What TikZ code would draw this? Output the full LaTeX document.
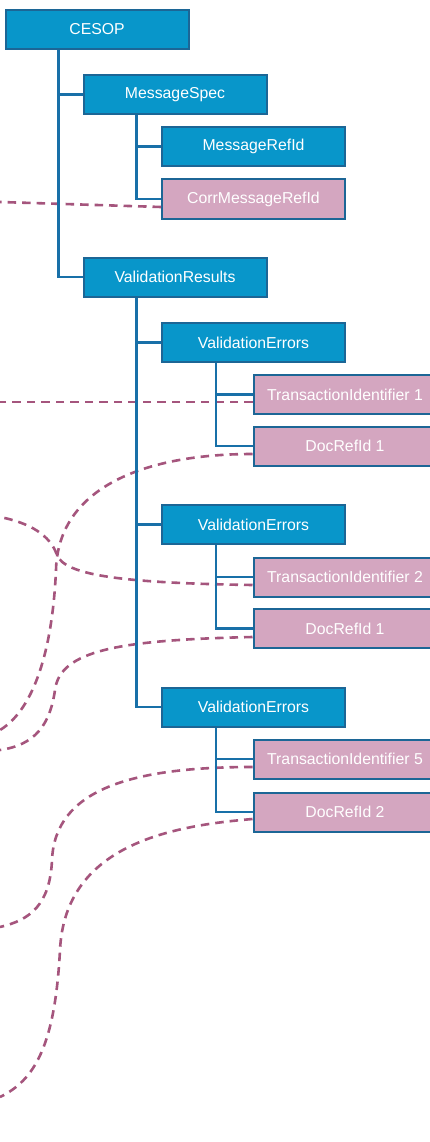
\documentclass[tikz,border=0pt]{standalone}
\usepackage{fontspec}
\setmainfont{Liberation Sans}
\definecolor{boxblue}{RGB}{8,150,202}
\definecolor{edgeblue}{RGB}{28,102,150}
\definecolor{treeblue}{RGB}{24,112,168}
\definecolor{pinkfill}{RGB}{212,166,192}
\definecolor{dashpink}{RGB}{165,85,125}
\tikzset{
  elem/.style={draw=edgeblue, line width=2pt, fill=boxblue, text=white,
    minimum width=183pt, minimum height=39pt, inner sep=0pt,
    font=\fontsize{15.8}{19}\selectfont},
  refel/.style={elem, fill=pinkfill},
  tree/.style={draw=treeblue, line width=2.6pt},
  link/.style={draw=dashpink, line width=2.6pt, dash pattern=on 8.5pt off 6pt}
}
\begin{document}
\begin{tikzpicture}[x=1pt,y=-1pt]
\useasboundingbox[fill=white] (0,0) rectangle (430,1142);
% nodes
\node[elem]  (cesop)    at (97,29.5)   {CESOP};
\node[elem]  (msgspec)  at (175,94.5)  {MessageSpec};
\node[elem]  (msgrefid) at (253.5,146.5) {MessageRefId};
\node[refel] (corr)     at (253.5,199) {CorrMessageRefId};
\node[elem]  (valres)   at (175,277)   {ValidationResults};
\node[elem]  (ve1)      at (253.5,342.5) {ValidationErrors};
\node[refel] (ti1)      at (345,394.5) {TransactionIdentifier 1};
\node[refel] (dr1)      at (345,446)   {DocRefId 1};
\node[elem]  (ve2)      at (253.5,524.5) {ValidationErrors};
\node[refel] (ti2)      at (345,577)   {TransactionIdentifier 2};
\node[refel] (dr1b)     at (345,628.5) {DocRefId 1};
\node[elem]  (ve3)      at (253.5,707) {ValidationErrors};
\node[refel] (ti5)      at (345,759)   {TransactionIdentifier 5};
\node[refel] (dr2)      at (345,812)   {DocRefId 2};
% free ends and waypoints of the dashed links
\coordinate (e1) at (0,202);
\coordinate (e2) at (0,402);
\coordinate (m3) at (56,570);  \coordinate (e3) at (0,730);
\coordinate (m4) at (57,555);  \coordinate (e4) at (0,517);
\coordinate (m5) at (55,690);  \coordinate (e5) at (0,750);
\coordinate (m6) at (52,860);  \coordinate (e6) at (0,927);
\coordinate (m7) at (60,950);  \coordinate (e7) at (0,1097);
% dashed links
\draw[link] ([yshift=-8pt]corr.west) -- (e1);
\draw[link] ([yshift=-7.5pt]ti1.west) -- (e2);
\draw[link] ([yshift=-8pt]dr1.west) .. controls (140,454) and (58,490) .. (m3)
  .. controls (52,660) and (30,712) .. (e3);
\draw[link] ([yshift=-8pt]ti2.west) .. controls (120,583) and (65,575) .. (m4)
  .. controls (50,535) and (30,523) .. (e4);
\draw[link] ([yshift=-8.5pt]dr1b.west) .. controls (120,640) and (60,650) .. (m5)
  .. controls (50,725) and (35,745) .. (e5);
\draw[link] ([yshift=-8pt]ti5.west) .. controls (130,767) and (55,790) .. (m6)
  .. controls (50,905) and (30,920) .. (e6);
\draw[link] ([yshift=-7pt]dr2.west) .. controls (170,826) and (65,845) .. (m7)
  .. controls (55,1045) and (35,1080) .. (e7);
% tree connectors
\draw[tree] ([xshift=54pt]cesop.south west) |- (msgspec.west);
\draw[tree] ([xshift=54pt]cesop.south west) |- (valres.west);
\draw[tree] ([xshift=54pt]msgspec.south west) |- (msgrefid.west);
\draw[tree] ([xshift=54pt]msgspec.south west) |- (corr.west);
\draw[tree] ([xshift=54pt]valres.south west) |- (ve1.west);
\draw[tree] ([xshift=54pt]valres.south west) |- (ve2.west);
\draw[tree] ([xshift=54pt]valres.south west) |- (ve3.west);
\draw[tree] ([xshift=55pt]ve1.south west) |- (ti1.west);
\draw[tree] ([xshift=55pt]ve1.south west) |- (dr1.west);
\draw[tree] ([xshift=55pt]ve2.south west) |- (ti2.west);
\draw[tree] ([xshift=55pt]ve2.south west) |- (dr1b.west);
\draw[tree] ([xshift=55pt]ve3.south west) |- (ti5.west);
\draw[tree] ([xshift=55pt]ve3.south west) |- (dr2.west);
\end{tikzpicture}
\end{document}
